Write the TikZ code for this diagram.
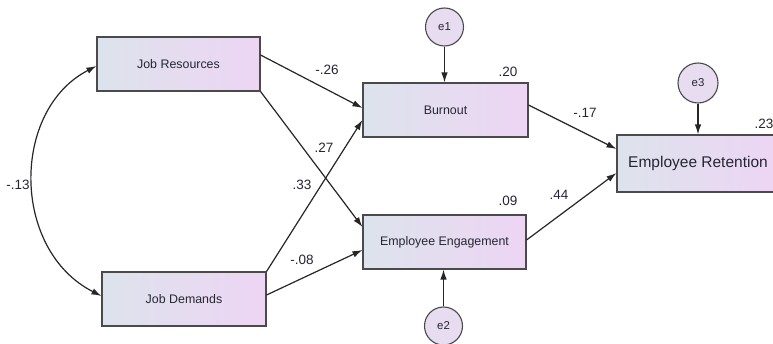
\documentclass[tikz,border=0pt]{standalone}
\usepackage{fontspec}
\setmainfont{Liberation Sans}
\usetikzlibrary{arrows.meta}
\definecolor{boxL}{HTML}{DDE3EC}
\definecolor{boxR}{HTML}{EDD5F4}
\definecolor{errfill}{HTML}{E7DCF0}
\definecolor{edge}{HTML}{4A4A4A}
\definecolor{txt}{HTML}{262633}
\tikzset{
  x=1pt, y=-1pt,
  obs/.style={draw=edge, line width=1.1pt, rectangle, left color=boxL, right color=boxR,
    minimum height=54pt, inner sep=0pt, text=txt, font=\fontsize{12.4}{14}\selectfont},
  errc/.style={draw=edge, line width=1.1pt, circle, fill=errfill, minimum size=38pt,
    inner sep=0pt, text=txt, font=\fontsize{11.4}{13}\selectfont},
  regpath/.style={draw=black!85, line width=1.2pt, -{Latex[length=10pt,width=6.5pt]}},
  cov/.style={draw=black!85, line width=1.2pt, {Latex[length=10pt,width=6.5pt]}-{Latex[length=10pt,width=6.5pt]}},
  coef/.style={text=txt, font=\fontsize{13.5}{15}\selectfont, inner sep=0pt}
}
\begin{document}
\begin{tikzpicture}
\clip (0,0) rectangle (773,344);
\fill[white] (0,0) rectangle (773,344);

% observed variables
\node[obs, minimum width=163pt] (jr) at (178.5,64) {Job Resources};
\node[obs, minimum width=164pt] (jd) at (184,299) {Job Demands};
\node[obs, minimum width=165pt] (bo) at (445.5,110) {Burnout};
\node[obs, minimum width=163pt] (ee) at (444.5,242) {Employee Engagement};
\node[obs, minimum width=162pt, minimum height=57pt, font=\fontsize{15.5}{17}\selectfont] (er) at (698,163.5) {Employee Retention};

% error terms
\node[errc] (e1) at (444.5,27) {e1};
\node[errc] (e2) at (443.5,326) {e2};
\node[errc, minimum size=40pt] (e3) at (698,83) {e3};

% covariance between the exogenous variables
\draw[cov] ([yshift=3pt]jd.west) .. controls (11,250) and (11,110) .. ([yshift=-2pt]jr.west);

% structural paths
\draw[regpath] ([yshift=9pt]jr.east) -- ([yshift=2pt]bo.west);
\draw[regpath] (jr.south east) -- ([yshift=15pt]ee.west);
\draw[regpath] (jd.north east) -- ([yshift=-10pt]bo.west);
\draw[regpath] ([yshift=4pt]jd.east) -- ([yshift=-8pt]ee.west);
\draw[regpath] ([yshift=5pt]bo.east) -- ([yshift=14.5pt]er.west);
\draw[regpath] ([yshift=2pt]ee.east) -- ([yshift=-9.5pt]er.west);

% residual paths
\draw[regpath] (e1.south) -- (e1.south |- bo.north);
\draw[regpath] (e2.north) -- (e2.north |- ee.south);
\draw[regpath] (e3.south) -- (e3.south |- er.north);

% coefficients
\node[coef] (c1) at (327,70) {-.26};
\node[coef] (c2) at (508,72) {.20};
\node[coef] (c3) at (324,148) {.27};
\node[coef] (c4) at (302,185) {.33};
\node[coef] (c5) at (302,260) {-.08};
\node[coef] (c6) at (508,201) {.09};
\node[coef] (c7) at (585,113) {-.17};
\node[coef] (c8) at (559,195) {.44};
\node[coef] (c9) at (764,124) {.23};
\node[coef] (c10) at (18,185) {-.13};
\end{tikzpicture}
\end{document}
